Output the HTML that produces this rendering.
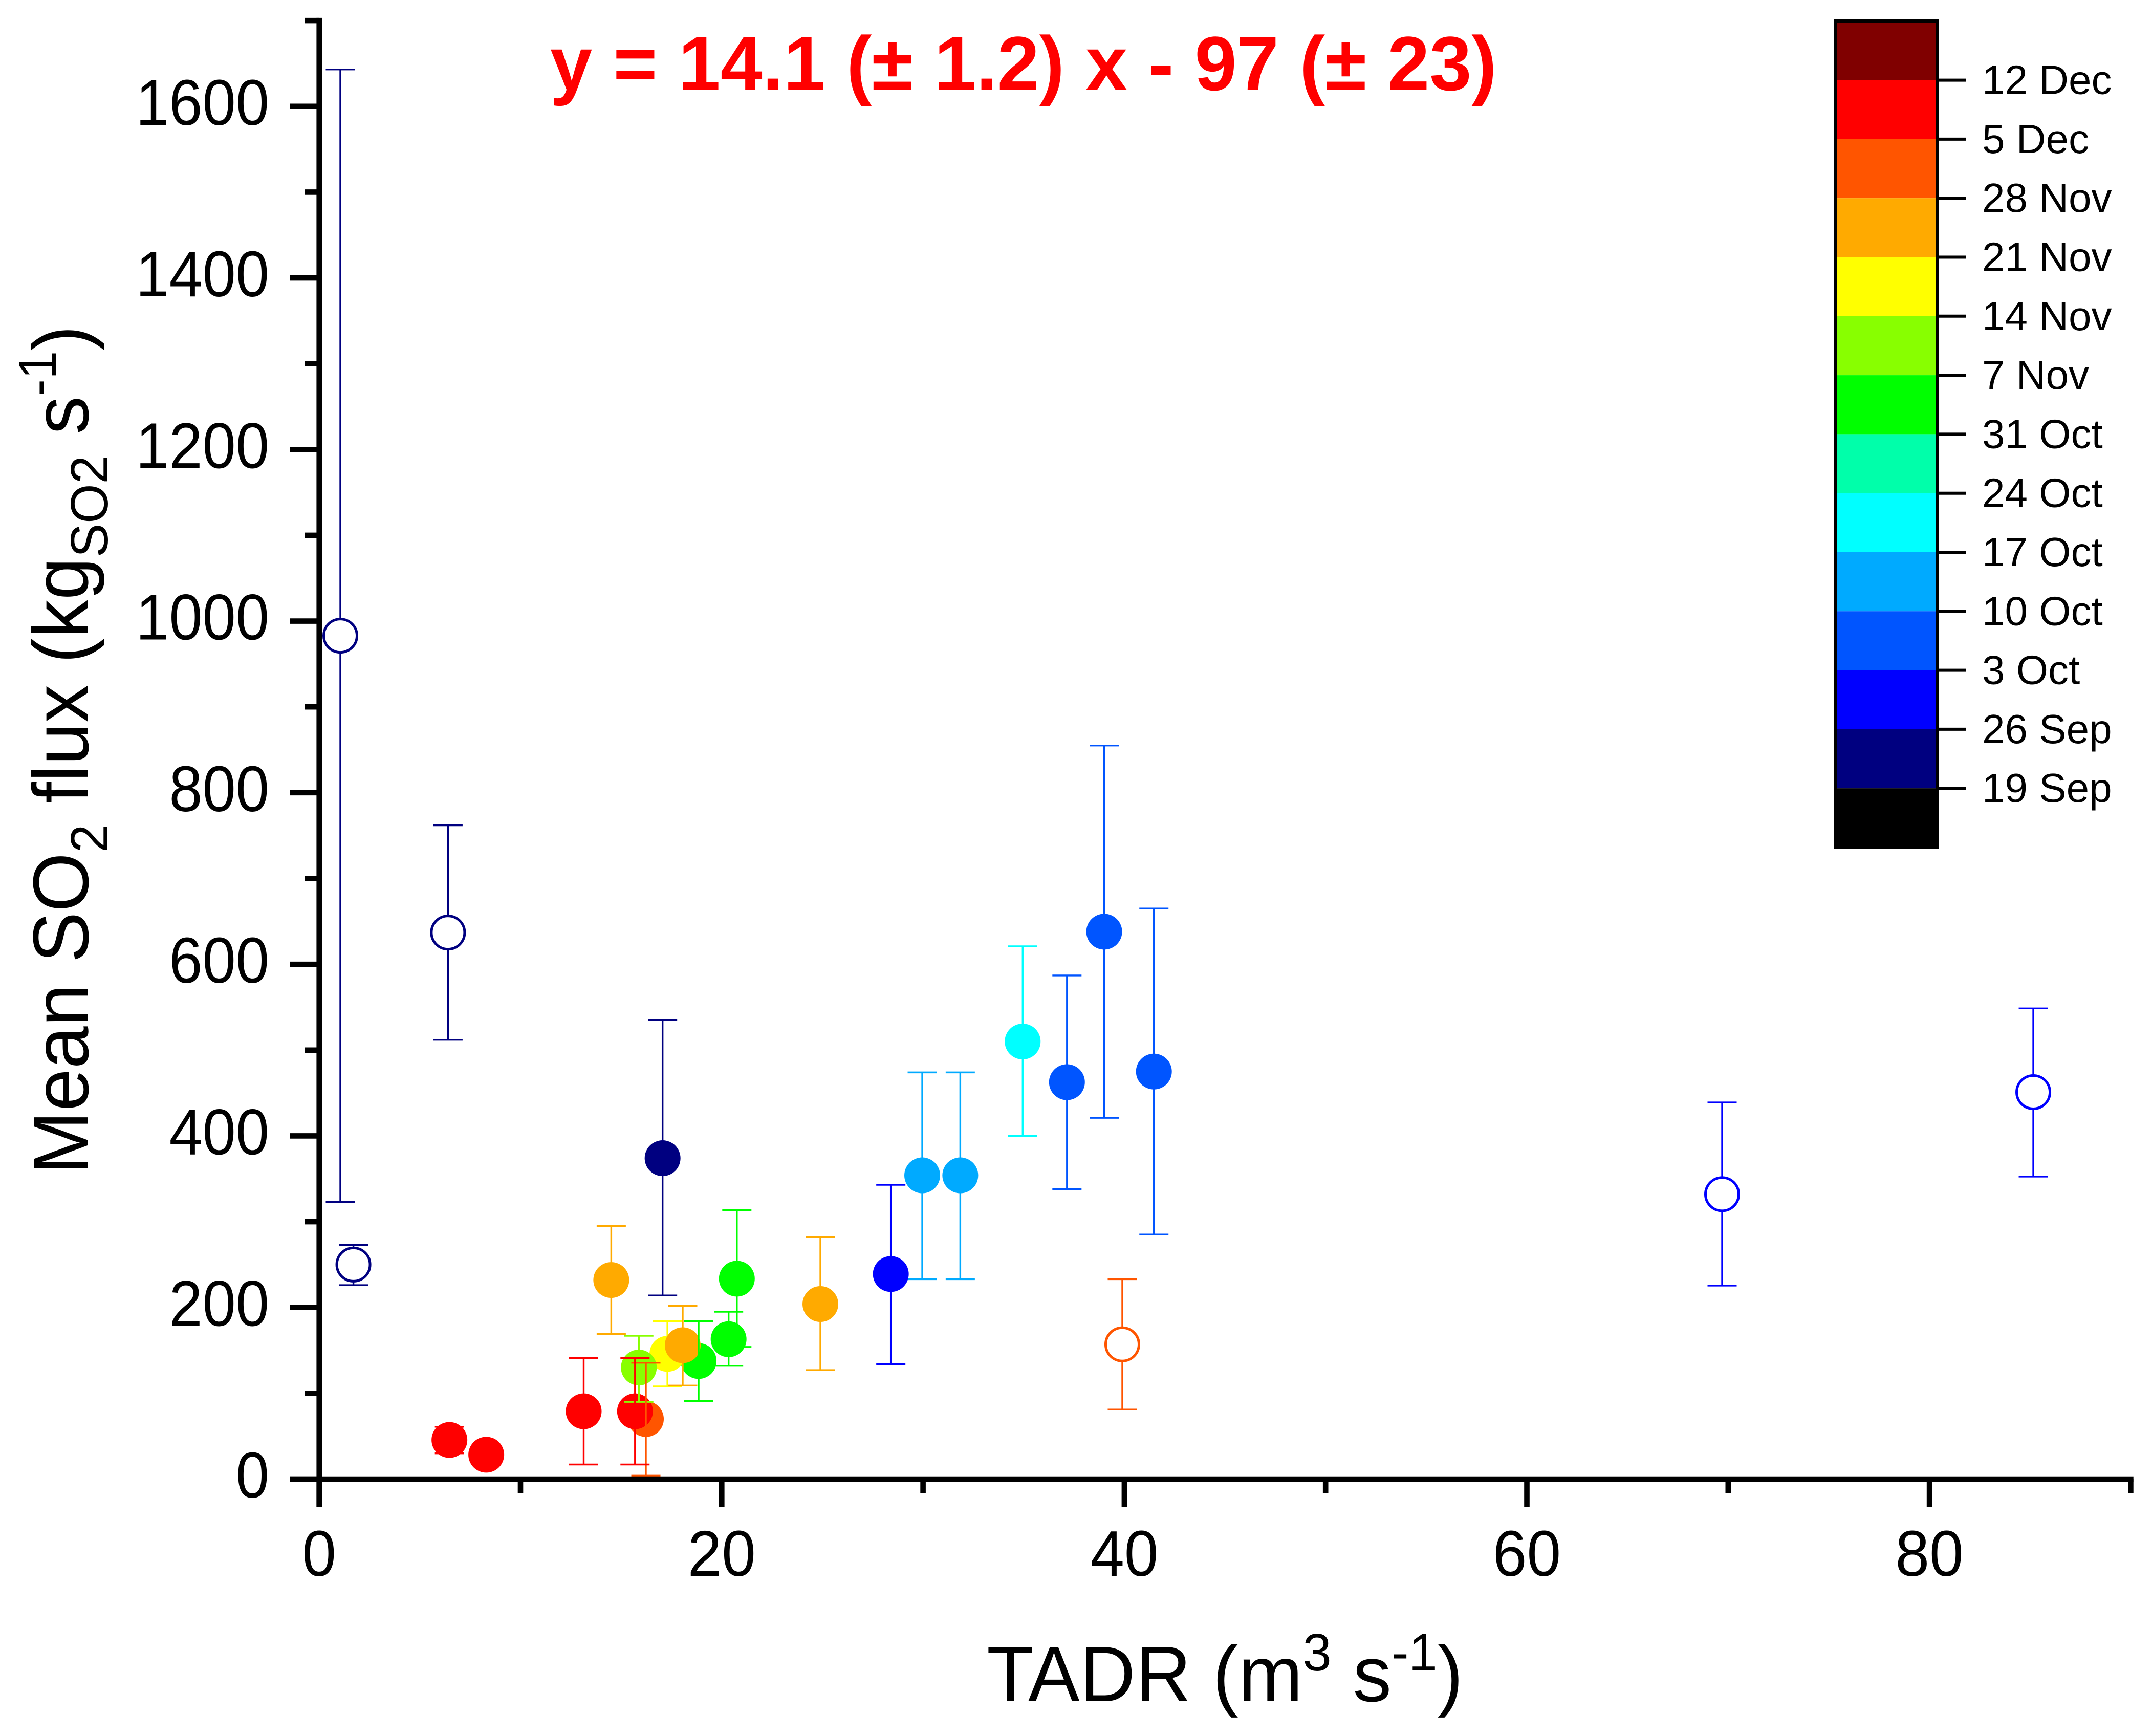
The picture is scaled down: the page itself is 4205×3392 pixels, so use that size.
<!DOCTYPE html>
<html lang="en">
<head>
<meta charset="utf-8">
<title>Mean SO2 flux vs TADR</title>
<style>
html,body{margin:0;padding:0;background:#fff;}
svg{display:block;font-family:"Liberation Sans",Arial,sans-serif;}
</style>
</head>
<body>
<svg id="chart" xmlns="http://www.w3.org/2000/svg" width="4205" height="3392" viewBox="0 0 4205 3392">
  <rect x="0" y="0" width="4205" height="3392" fill="#ffffff"/>
  <g id="bars-under"></g>
  <g id="markers"></g>
  <g id="bars-over"></g>
  <g id="axes"></g>
  <g id="colorbar"></g>
  <text transform="translate(1075,176) scale(0.985,1)" font-size="150" font-weight="700" fill="#ff0000">y = 14.1 (± 1.2) x - 97 (± 23)</text>
  <text transform="translate(1928,3324) scale(0.98,1)" font-size="154" fill="#000">TADR (m<tspan font-size="103" dy="-60">3</tspan><tspan dy="60"> s</tspan><tspan font-size="103" dy="-60">-1</tspan><tspan dy="60">)</tspan></text>
  <text transform="translate(172,2295) rotate(-90) scale(0.967,1)" font-size="154" fill="#000">Mean SO<tspan font-size="103" dy="38">2</tspan><tspan dy="-38"> flux (kg</tspan><tspan font-size="103" dy="38">SO2</tspan><tspan dy="-38"> s</tspan><tspan font-size="103" dy="-63">-1</tspan><tspan dy="63">)</tspan></text>
</svg>
<script>
// Chart data
const pointNames = ['open-a','open-b','open-c','sep-a','orange-a','green-a','yellow','orange-b','green-b','green-c','lime','orangered','red-a','red-b','red-c','red-d','orange-c','blue','sky-a','sky-b','cyan','azure-a','azure-b','azure-c','open-orange','open-blue-a','open-blue-b'];
const tadr   = [1.05,6.4,1.7,17.06,14.51,18.85,17.3,18.06,20.75,20.34,15.88,16.23,13.14,15.69,6.47,8.3,24.9,28.4,29.96,31.85,34.95,37.15,39.0,41.47,39.9,69.7,85.16];
const flux   = [983,637,250,374,232,137.6,146,156,233.6,163,130,70,79,79,45.6,28.4,204,239,354,354,510,462.6,638,475,157,332,451];
const fluxHi = [1643,762,273,535,295,184,184,202,313.6,195,167,135.6,141,141,61,28.4,282,343,474,474,621,587,855,665,233,439,548.6];
const fluxLo = [323,512,226,214,169,91,108,109,154,132,90,4,17,17,30,28.4,127,134,233,233,400,338,421,285,81,225.5,352.6];
const pointColors = ['#000080','#000080','#000080','#000080','#ffaa00','#00ff00','#ffff00','#ffaa00','#00ff00','#00ff00','#88ff00','#ff5500','#ff0000','#ff0000','#ff0000','#ff0000','#ffaa00','#0000ff','#00aaff','#00aaff','#00ffff','#0055ff','#0055ff','#0055ff','#ff5500','#0000ff','#0000ff'];
const isOpen = [1,1,1,0,0,0,0,0,0,0,0,0,0,0,0,0,0,0,0,0,0,0,0,0,1,1,1];
const barsOnTop = [0,0,0,0,0,1,0,1,0,0,1,1,1,1,0,0,0,0,0,0,0,0,0,0,0,0,0];
const xMajorTicks = [0,20,40,60,80];
const xMinorTicks = [10,30,50,70,90];
const yMajorTicks = [0,200,400,600,800,1000,1200,1400,1600];
const yMinorTicks = [100,300,500,700,900,1100,1300,1500,1700];
const colorbarLabels = ['12 Dec','5 Dec','28 Nov','21 Nov','14 Nov','7 Nov','31 Oct','24 Oct','17 Oct','10 Oct','3 Oct','26 Sep','19 Sep'];
const colorbarBands = ['#800000','#ff0000','#ff5500','#ffaa00','#ffff00','#88ff00','#00ff00','#00ffaa','#00ffff','#00aaff','#0055ff','#0000ff','#000080','#000000'];

// Axis functions
const X0 = 623.7, XS = 39.33;
const Y0 = 2890, YS = 1.6764;
const xPos = v => X0 + v * XS;
const yPos = v => Y0 - v * YS;
const NS = 'http://www.w3.org/2000/svg';
function mk(parent, tag, attrs, txt) {
  const el = document.createElementNS(NS, tag);
  for (const k in attrs) el.setAttribute(k, attrs[k]);
  if (txt !== undefined) el.textContent = txt;
  parent.appendChild(el);
  return el;
}
const under = document.getElementById('bars-under');
const over = document.getElementById('bars-over');
const markers = document.getElementById('markers');
const axes = document.getElementById('axes');
const cbar = document.getElementById('colorbar');

// Data marks
tadr.forEach((v, i) => {
  const g = mk(barsOnTop[i] ? over : under, 'g', {stroke: pointColors[i], 'stroke-width': 3.4, fill: 'none'});
  
  
  const x = xPos(v), hi = yPos(fluxHi[i]), lo = yPos(fluxLo[i]);
  if (fluxHi[i] !== fluxLo[i]) {
    mk(g, 'line', {x1: x, x2: x, y1: hi, y2: lo});
    mk(g, 'line', {x1: x - 28.5, x2: x + 28.5, y1: hi, y2: hi});
    mk(g, 'line', {x1: x - 28.5, x2: x + 28.5, y1: lo, y2: lo});
  }
  const c = mk(markers, 'circle', {
    cx: x, cy: yPos(flux[i]),
    r: isOpen[i] ? 32.5 : 35,
    fill: isOpen[i] ? '#ffffff' : pointColors[i],
    stroke: isOpen[i] ? pointColors[i] : 'none',
    'stroke-width': isOpen[i] ? 5 : 0
  });
  
  
});

// Axes
const AXW = 10.6;
const xLine = mk(axes, 'line', {x1: X0 - 57, x2: xPos(90) + AXW / 2, y1: Y0, y2: Y0, stroke: '#000', 'stroke-width': AXW});


const yLine = mk(axes, 'line', {x1: X0, x2: X0, y1: yPos(1700) - AXW / 2, y2: Y0 + 55, stroke: '#000', 'stroke-width': AXW});



xMajorTicks.forEach(v => {
  const t = mk(axes, 'line', {x1: xPos(v), x2: xPos(v), y1: Y0, y2: Y0 + 55, stroke: '#000', 'stroke-width': AXW});
  
  
  const l = mk(axes, 'text', {transform: 'translate(' + xPos(v) + ',3079) scale(0.95,1)', 'font-size': 126, 'text-anchor': 'middle', fill: '#000'}, String(v));
  
  
});
xMinorTicks.forEach(v => {
  const t = mk(axes, 'line', {x1: xPos(v), x2: xPos(v), y1: Y0, y2: Y0 + 27, stroke: '#000', 'stroke-width': AXW});
  
  
});
yMajorTicks.forEach(v => {
  const t = mk(axes, 'line', {x1: X0 - 57, x2: X0, y1: yPos(v), y2: yPos(v), stroke: '#000', 'stroke-width': AXW});
  
  
  const l = mk(axes, 'text', {transform: 'translate(526,' + (yPos(v) + 36) + ') scale(0.93,1)', 'font-size': 126, 'text-anchor': 'end', fill: '#000'}, String(v));
  
  
});
yMinorTicks.forEach(v => {
  const t = mk(axes, 'line', {x1: X0 - 28, x2: X0, y1: yPos(v), y2: yPos(v), stroke: '#000', 'stroke-width': AXW});
  
  
});

// Colorbar
const CB_L = 3587, CB_R = 3785, CB_TOP = 41, CB_FIRST = 156.6, CB_STEP = 115.3;
const bandEdge = k => k === 0 ? CB_TOP : CB_FIRST + (k - 1) * CB_STEP;
colorbarBands.forEach((col, k) => {
  const r = mk(cbar, 'rect', {x: CB_L, y: bandEdge(k), width: CB_R - CB_L, height: bandEdge(k + 1) - bandEdge(k), fill: col});
  
  
});
const frame = mk(cbar, 'rect', {x: CB_L, y: CB_TOP, width: CB_R - CB_L, height: bandEdge(14) - CB_TOP, fill: 'none', stroke: '#000', 'stroke-width': 6});


colorbarLabels.forEach((txt, k) => {
  const y = bandEdge(k + 1);
  const t = mk(cbar, 'line', {x1: CB_R, x2: 3842, y1: y, y2: y, stroke: '#000', 'stroke-width': 6});
  
  
  const l = mk(cbar, 'text', {x: 3873, y: y + 27, 'font-size': 80, fill: '#000'}, txt);
  
  
});
</script>
</body>
</html>
